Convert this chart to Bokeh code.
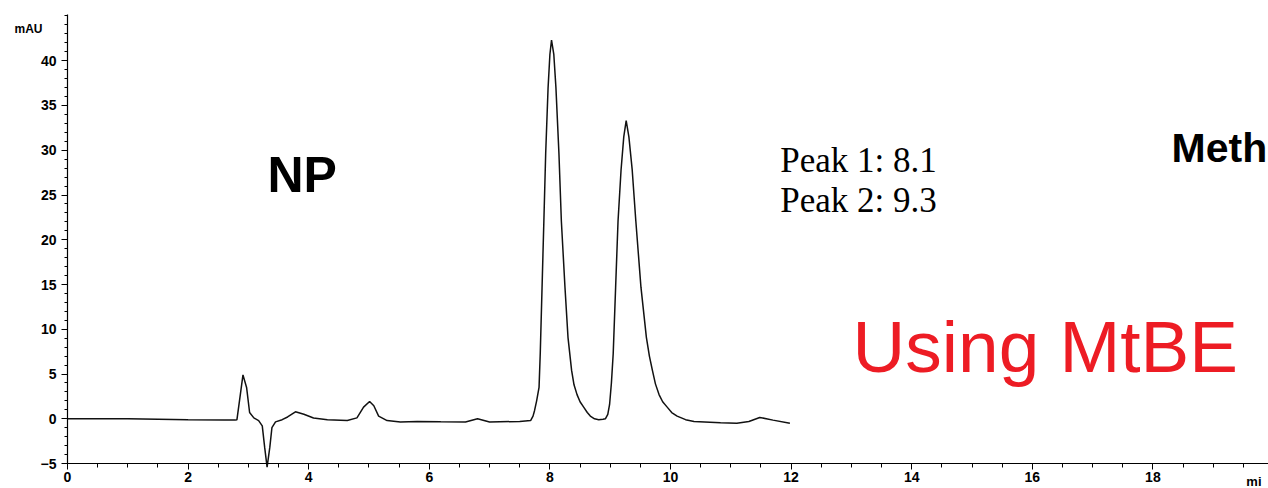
from bokeh.plotting import figure
from bokeh.models import Range1d, FixedTicker, Label
from bokeh.embed import file_html
from bokeh.resources import INLINE

# Chromatogram trace (time in min, signal in mAU)
time_min = [0.0, 1.0, 2.0, 2.6, 2.78, 2.81, 2.86, 2.91, 2.97, 3.02, 3.09, 3.17, 3.23, 3.27, 3.31,
            3.355, 3.39, 3.45, 3.56, 3.65, 3.78, 3.92, 4.08, 4.31, 4.64, 4.80, 4.91, 5.01, 5.08,
            5.16, 5.30, 5.52, 5.80, 6.19, 6.6, 6.8, 7.0, 7.5, 7.68, 7.72, 7.745, 7.78, 7.82, 7.84,
            7.87, 7.90, 7.93, 7.97, 8.0, 8.027, 8.065, 8.10, 8.15, 8.19, 8.25, 8.30, 8.36, 8.40,
            8.45, 8.50, 8.56, 8.62, 8.67, 8.74, 8.81, 8.88, 8.92, 8.96, 8.99, 9.02, 9.05, 9.09,
            9.13, 9.18, 9.225, 9.265, 9.31, 9.365, 9.425, 9.51, 9.60, 9.65, 9.70, 9.75, 9.81,
            9.87, 9.945, 10.02, 10.11, 10.25, 10.39, 10.83, 11.1, 11.3, 11.48, 11.7, 11.98]
signal_mau = [0.0, 0.0, -0.1, -0.15, -0.15, -0.1, 2.4, 4.9, 3.5, 0.7, 0.1, -0.2, -0.8, -3.2, -5.4,
              -3.2, -1.0, -0.35, -0.1, 0.2, 0.78, 0.5, 0.08, -0.1, -0.2, 0.1, 1.3, 1.93, 1.45,
              0.3, -0.2, -0.37, -0.3, -0.33, -0.35, 0.0, -0.35, -0.3, -0.2, 0.3, 0.9, 2.0, 3.5, 7.3,
              14.7, 22.1, 29.6, 37.0, 40.7, 42.3, 40.7, 37.0, 29.6, 22.1, 14.7, 9.1, 5.4, 3.8,
              2.7, 1.9, 1.3, 0.7, 0.3, 0.0, -0.1, -0.05, 0.0, 0.5, 1.6, 4.0, 7.3, 14.7,
              22.1, 27.8, 31.5, 33.3, 31.5, 27.8, 22.1, 14.7, 9.1, 7.0, 5.4, 3.9, 2.7,
              1.9, 1.3, 0.7, 0.3, -0.1, -0.3, -0.45, -0.5, -0.3, 0.15, -0.15, -0.5]

x_major_ticks = [0, 2, 4, 6, 8, 10, 12, 14, 16, 18]
y_major_ticks = [-5, 0, 5, 10, 15, 20, 25, 30, 35, 40]
peak_labels = ["Peak 1: 8.1", "Peak 2: 9.3"]

# frame covers the whole canvas; axes are pinned at fixed data locations
p = figure(width=1268, height=488, output_backend="svg", toolbar_location=None,
           x_range=Range1d(-1.111, 19.917), y_range=Range1d(-7.79, 46.73),
           min_border_left=0, min_border_right=0, min_border_top=0, min_border_bottom=0)
p.outline_line_color = None
p.xgrid.visible = False
p.ygrid.visible = False
p.background_fill_color = "white"
p.border_fill_color = "white"

p.line(time_min, signal_mau, line_color="#111111", line_width=1.5)

x_minor = [i * 0.5 for i in range(0, 40)]
y_minor = list(range(-5, 46))
p.xaxis.ticker = FixedTicker(ticks=x_major_ticks, minor_ticks=x_minor)
p.yaxis.ticker = FixedTicker(ticks=y_major_ticks, minor_ticks=y_minor)
p.xaxis.fixed_location = -5
p.yaxis.fixed_location = 0
p.xaxis.bounds = (0, 19.917)
p.yaxis.bounds = (-5, 45.2)

for ax in (p.xaxis[0], p.yaxis[0]):
    ax.axis_line_color = "black"
    ax.axis_line_width = 1.2
    ax.major_tick_line_color = "black"
    ax.minor_tick_line_color = "black"
    ax.major_tick_in = 0
    ax.minor_tick_in = 0
    ax.major_label_text_font = "Liberation Sans"
    ax.major_label_text_font_style = "bold"
    ax.major_label_text_font_size = "14px"
    ax.major_label_text_color = "black"

p.xaxis.major_tick_out = 6
p.xaxis.minor_tick_out = 4
p.xaxis.major_label_standoff = 2
p.yaxis.major_tick_out = 6
p.yaxis.minor_tick_out = 3
p.yaxis.major_label_standoff = 5

p.add_layout(Label(x=-0.879, y=43.6, text="mAU", text_font="Liberation Sans",
                   text_font_style="bold", text_font_size="12px", text_color="black",
                   text_baseline="alphabetic"))
p.add_layout(Label(x=19.55, y=-7.0, text="mi", text_font="Liberation Sans",
                   text_font_style="bold", text_font_size="13px", text_color="black",
                   text_baseline="alphabetic"))
p.add_layout(Label(x=3.317, y=27.21, text="NP", text_font="Liberation Sans",
                   text_font_style="bold", text_font_size="50px", text_color="black",
                   text_baseline="alphabetic"))
p.add_layout(Label(x=18.31, y=30.23, text="Meth", text_font="Liberation Sans",
                   text_font_style="bold", text_font_size="41px", text_color="black",
                   text_baseline="alphabetic"))
p.add_layout(Label(x=11.82, y=28.89, text=peak_labels[0], text_font="Liberation Serif",
                   text_font_size="35px", text_color="black", text_baseline="alphabetic"))
p.add_layout(Label(x=11.82, y=24.42, text=peak_labels[1], text_font="Liberation Serif",
                   text_font_size="35px", text_color="black", text_baseline="alphabetic"))
p.add_layout(Label(x=13.02, y=8.11, text="Using MtBE", text_font="Liberation Sans",
                   text_font_size="73px", text_color="#ED1C24", text_baseline="alphabetic"))

open("out.html", "w").write(file_html(p, INLINE))
